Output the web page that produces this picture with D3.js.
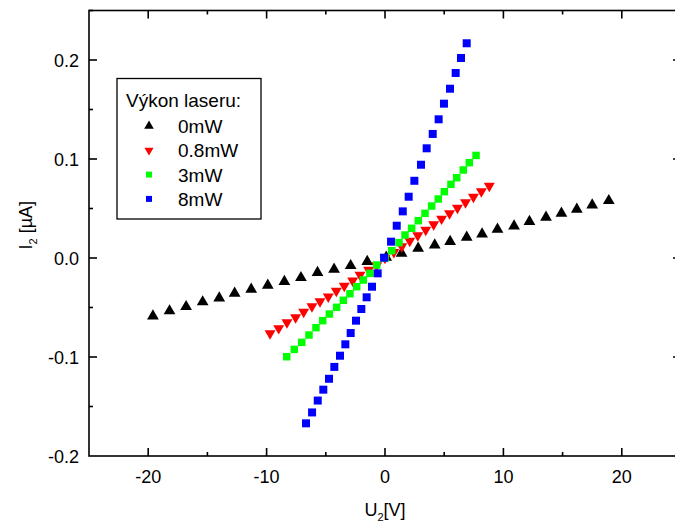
<!DOCTYPE html>
<html><head><meta charset="utf-8">
<script src="https://cdn.jsdelivr.net/npm/d3@7"></script>
<style>body{margin:0;background:#fff}svg{display:block}text{font-family:Arial,"Liberation Sans",sans-serif}</style>
</head><body><svg id="c" width="675" height="524"></svg>
<script>
const xTicks = [-20, -10, 0, 10, 20];
const yTicks = [-0.2, -0.1, 0.0, 0.1, 0.2];
const seriesNames = ["0mW", "0.8mW", "3mW", "8mW"];
const legendTitle = "Výkon laseru:";

const u0mW = [-19.6,-18.2,-16.8,-15.4,-14.0,-12.7,-11.3,-9.9,-8.5,-7.1,-5.7,-4.3,-2.9,-1.5,0.1,1.4,2.8,4.2,5.5,6.9,8.2,9.5,10.9,12.2,13.6,14.9,16.2,17.5,18.9];
const i0mW = [-0.0586,-0.0535,-0.0492,-0.0444,-0.0404,-0.0357,-0.0317,-0.0276,-0.0239,-0.0199,-0.0148,-0.0114,-0.0078,-0.0037,0.0007,0.0047,0.0098,0.0131,0.0165,0.0209,0.0242,0.0290,0.0323,0.0367,0.0411,0.0451,0.0492,0.0535,0.0579];

const u08mW = [-9.71,-8.98,-8.28,-7.55,-6.87,-6.17,-5.49,-4.79,-4.11,-3.44,-2.73,-2.11,-1.38,-0.70,0.0,0.75,1.42,2.09,2.77,3.44,4.11,4.78,5.45,6.12,6.80,7.47,8.14,8.81];
const i08mW = [-0.0761,-0.0710,-0.0650,-0.0600,-0.0545,-0.0490,-0.0438,-0.0390,-0.0333,-0.0283,-0.0229,-0.0172,-0.0121,-0.0074,0.0,0.0060,0.0117,0.0172,0.0229,0.0284,0.0340,0.0396,0.0450,0.0506,0.0562,0.0617,0.0672,0.0727];

const u3mW = [-8.30,-7.66,-7.03,-6.42,-5.83,-5.26,-4.70,-4.08,-3.52,-2.96,-2.39,-1.83,-1.27,-0.70,0.0,0.57,1.18,1.69,2.25,2.81,3.38,3.94,4.50,5.01,5.57,6.06,6.61,7.12,7.69];
const i3mW = [-0.0997,-0.0923,-0.0852,-0.0778,-0.0704,-0.0633,-0.0566,-0.0498,-0.0427,-0.0361,-0.0290,-0.0222,-0.0155,-0.0071,0.0,0.0074,0.0155,0.0232,0.0300,0.0377,0.0451,0.0525,0.0596,0.0670,0.0744,0.0811,0.0889,0.0963,0.1036];

const u8mW = [-6.67,-6.16,-5.68,-5.21,-4.73,-4.28,-3.80,-3.35,-2.90,-2.45,-2.00,-1.55,-1.10,-0.62,-0.08,0.51,0.99,1.50,2.00,2.48,3.04,3.52,4.03,4.53,4.98,5.49,5.97,6.42,6.90];
const i8mW = [-0.1670,-0.1560,-0.1440,-0.1330,-0.1220,-0.1100,-0.0987,-0.0872,-0.0758,-0.0633,-0.0515,-0.0397,-0.0290,-0.0155,0.0003,0.0165,0.0326,0.0471,0.0619,0.0780,0.0942,0.1108,0.1253,0.1401,0.1559,0.1710,0.1869,0.2020,0.2169];

const svg = d3.select("#c");
const L = 89, R = 681, T = 10.5, B = 456;
const x = d3.scaleLinear().domain([-25, 25]).range([L, R]);
const y = d3.scaleLinear().domain([-0.2, 0.25]).range([B, T]);

const fs = 18;
const ax = svg.append("g");
ax.append("rect").attr("x", L).attr("y", T).attr("width", R - L).attr("height", B - T)
  .attr("fill", "none").attr("stroke", "#000").attr("stroke-width", 1.6);

const xMinor = d3.range(-25, 25.01, 5);
const yMinor = d3.range(-0.2, 0.2501, 0.05).map(v => +v.toFixed(3));
const lineStyle = s => s.attr("stroke", "#000").attr("stroke-width", 1.6);
xMinor.forEach(v => {
  const major = xTicks.includes(v);
  const len = major ? 8 : 4;
  if (v <= -25 || v >= 25) return;
  ax.append("line").attr("x1", x(v)).attr("x2", x(v)).attr("y1", B).attr("y2", B - len).call(lineStyle);
  ax.append("line").attr("x1", x(v)).attr("x2", x(v)).attr("y1", T).attr("y2", T + len).call(lineStyle);
});
yMinor.forEach(v => {
  const major = yTicks.some(t => Math.abs(t - v) < 1e-6);
  const len = major ? 8 : 4;
  if (Math.abs(v + 0.2) < 1e-6) return;
  ax.append("line").attr("x1", L).attr("x2", L + len).attr("y1", y(v)).attr("y2", y(v)).call(lineStyle);
  ax.append("line").attr("x1", R).attr("x2", R - len).attr("y1", y(v)).attr("y2", y(v)).call(lineStyle);
});
xTicks.forEach(v => {
  ax.append("text").attr("x", x(v)).attr("y", B + 27).attr("text-anchor", "middle")
    .attr("font-size", fs).text(String(v));
});
yTicks.forEach(v => {
  ax.append("text").attr("x", L - 10).attr("y", y(v) + 6.5).attr("text-anchor", "end")
    .attr("font-size", fs).text(v.toFixed(1));
});
const xt = ax.append("text").attr("x", x(0)).attr("y", 516).attr("text-anchor", "middle").attr("font-size", fs);
xt.append("tspan").text("U");
xt.append("tspan").attr("font-size", 11).attr("dy", 5).text("2");
xt.append("tspan").attr("dy", -5).text("[V]");
const yt = ax.append("text").attr("transform", `translate(32,${(T + B) / 2 - 8}) rotate(-90)`)
  .attr("text-anchor", "middle").attr("font-size", fs);
yt.append("tspan").text("I");
yt.append("tspan").attr("font-size", 11).attr("dy", 5).text("2");
yt.append("tspan").attr("dy", -5).text(" [µA]");

const series = [
  {u: u0mW, i: i0mW, color: "#000000", type: d3.symbolTriangle, rot: 0, size: 60},
  {u: u08mW, i: i08mW, color: "#ff0000", type: d3.symbolTriangle, rot: 180, size: 52},
  {u: u3mW, i: i3mW, color: "#00ff00", type: d3.symbolSquare, rot: 0, size: 56},
  {u: u8mW, i: i8mW, color: "#0000ff", type: d3.symbolSquare, rot: 0, size: 64}
];
const plot = svg.append("g");
series.forEach(s => {
  const sym = d3.symbol().type(s.type).size(s.size);
  plot.append("g").selectAll("path").data(s.u.map((u, k) => [u, s.i[k]])).join("path")
    .attr("d", sym)
    .attr("transform", d => `translate(${x(d[0])},${y(d[1])}) rotate(${s.rot})`)
    .attr("fill", s.color);
});

const lg = svg.append("g");
lg.append("rect").attr("x", 117).attr("y", 78.5).attr("width", 144).attr("height", 140.5)
  .attr("fill", "#fff").attr("stroke", "#000").attr("stroke-width", 1.3);
lg.append("text").attr("x", 126).attr("y", 107).attr("font-size", 19).text(legendTitle);
const legSizes = [40, 36, 36, 36];
series.forEach((s, k) => {
  const cy = 126 + k * 24.3;
  lg.append("path").attr("d", d3.symbol().type(s.type).size(legSizes[k]))
    .attr("transform", `translate(149,${cy}) rotate(${s.rot})`).attr("fill", s.color);
  lg.append("text").attr("x", 178).attr("y", cy + 7).attr("font-size", 19).text(seriesNames[k]);
});
</script></body></html>
